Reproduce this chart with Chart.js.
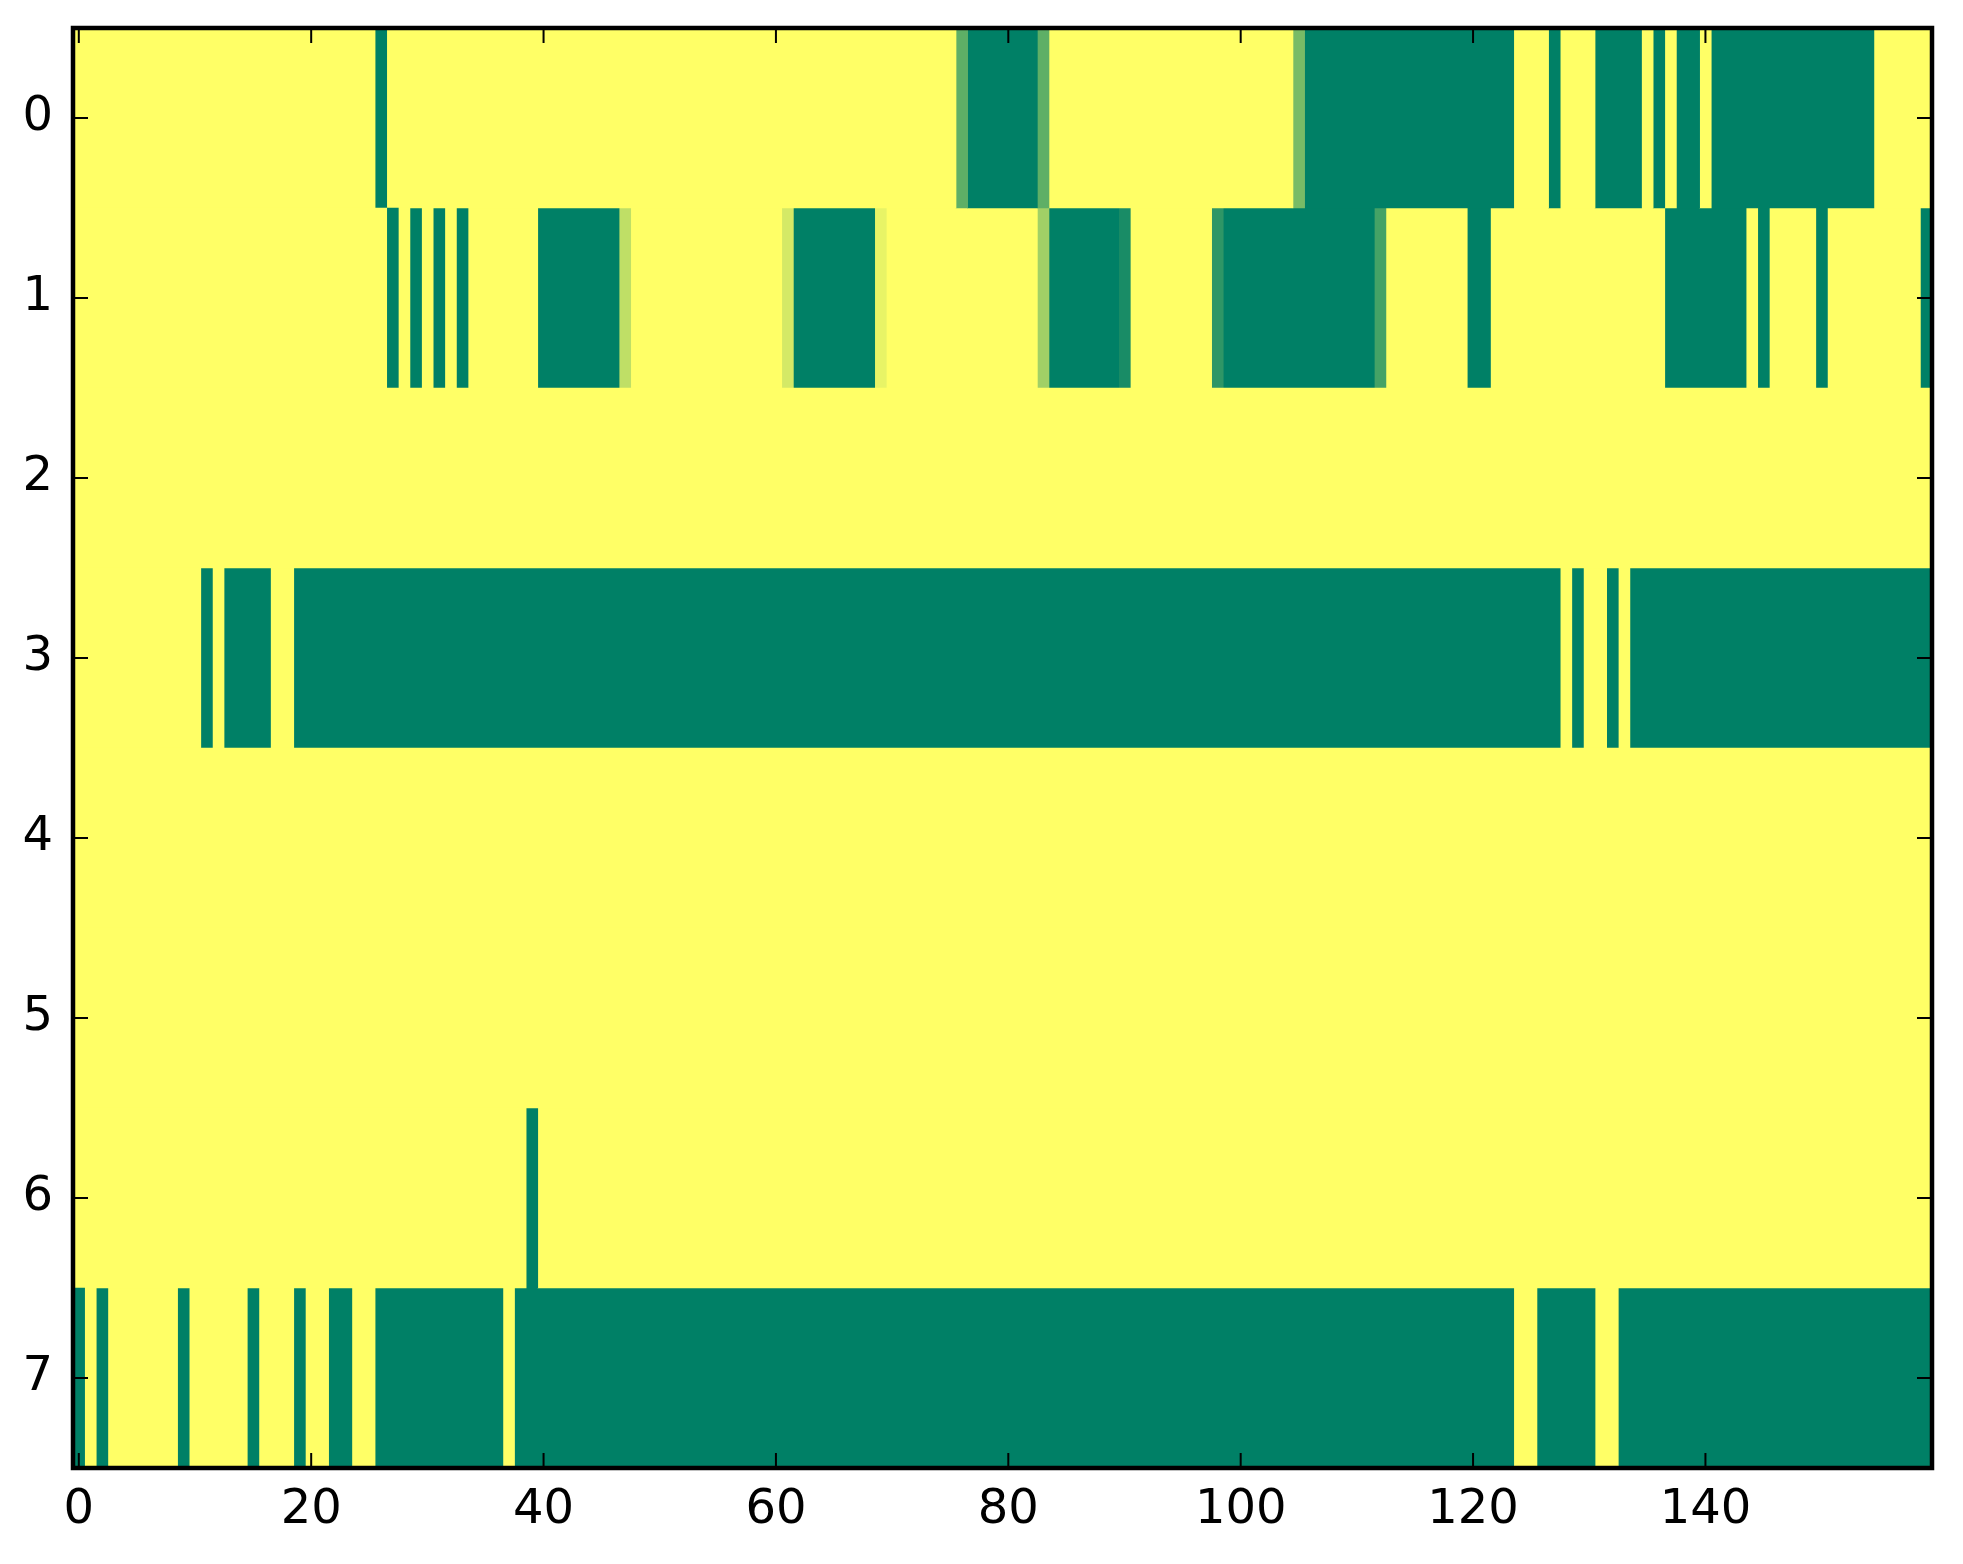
<!DOCTYPE html>
<html>
<head>
<meta charset="utf-8">
<script src="https://cdn.jsdelivr.net/npm/chart.js@4.4.0/dist/chart.umd.min.js"></script>
<style>
  body { margin: 0; background: #fff; }
  #wrap { width: 1963px; height: 1564px; position: relative; }
</style>
</head>
<body>
<div id="wrap"><canvas id="heat"></canvas></div>
<script>
// Row labels (top to bottom) and x tick labels
const rowLabels = ['0', '1', '2', '3', '4', '5', '6', '7'];
const xTickValues = [0, 20, 40, 60, 80, 100, 120, 140];

// One array per row, 160 columns each (0 = yellow, 1 = green)
const row0 = [
  0,0,0,0,0,0,0,0,0,0,0,0,0,0,0,0,0,0,0,0,
  0,0,0,0,0,0,1,0,0,0,0,0,0,0,0,0,0,0,0,0,
  0,0,0,0,0,0,0,0,0,0,0,0,0,0,0,0,0,0,0,0,
  0,0,0,0,0,0,0,0,0,0,0,0,0,0,0,0,0.63,1,1,1,
  1,1,1,0.63,0,0,0,0,0,0,0,0,0,0,0,0,0,0,0,0,
  0,0,0,0,0,0.53,1,1,1,1,1,1,1,1,1,1,1,1,1,1,
  1,1,1,1,0,0,0,1,0,0,0,1,1,1,1,0,1,0,1,1,
  0,1,1,1,1,1,1,1,1,1,1,1,1,1,1,0,0,0,0,0
];
const row1 = [
  0,0,0,0,0,0,0,0,0,0,0,0,0,0,0,0,0,0,0,0,
  0,0,0,0,0,0,0,1,0,1,0,1,0,1,0,0,0,0,0,0,
  1,1,1,1,1,1,1,0.25,0,0,0,0,0,0,0,0,0,0,0,0,
  0,0.17,1,1,1,1,1,1,1,0.09,0,0,0,0,0,0,0,0,0,0,
  0,0,0,0.37,1,1,1,1,1,1,0.9,0,0,0,0,0,0,0,0.82,1,
  1,1,1,1,1,1,1,1,1,1,1,1,0.73,0,0,0,0,0,0,0,
  1,1,0,0,0,0,0,0,0,0,0,0,0,0,0,0,0,1,1,1,
  1,1,1,1,0,1,0,0,0,0,1,0,0,0,0,0,0,0,0,1
];
const row2 = [
  0,0,0,0,0,0,0,0,0,0,0,0,0,0,0,0,0,0,0,0,
  0,0,0,0,0,0,0,0,0,0,0,0,0,0,0,0,0,0,0,0,
  0,0,0,0,0,0,0,0,0,0,0,0,0,0,0,0,0,0,0,0,
  0,0,0,0,0,0,0,0,0,0,0,0,0,0,0,0,0,0,0,0,
  0,0,0,0,0,0,0,0,0,0,0,0,0,0,0,0,0,0,0,0,
  0,0,0,0,0,0,0,0,0,0,0,0,0,0,0,0,0,0,0,0,
  0,0,0,0,0,0,0,0,0,0,0,0,0,0,0,0,0,0,0,0,
  0,0,0,0,0,0,0,0,0,0,0,0,0,0,0,0,0,0,0,0
];
const row3 = [
  0,0,0,0,0,0,0,0,0,0,0,1,0,1,1,1,1,0,0,1,
  1,1,1,1,1,1,1,1,1,1,1,1,1,1,1,1,1,1,1,1,
  1,1,1,1,1,1,1,1,1,1,1,1,1,1,1,1,1,1,1,1,
  1,1,1,1,1,1,1,1,1,1,1,1,1,1,1,1,1,1,1,1,
  1,1,1,1,1,1,1,1,1,1,1,1,1,1,1,1,1,1,1,1,
  1,1,1,1,1,1,1,1,1,1,1,1,1,1,1,1,1,1,1,1,
  1,1,1,1,1,1,1,1,0,1,0,0,1,0,1,1,1,1,1,1,
  1,1,1,1,1,1,1,1,1,1,1,1,1,1,1,1,1,1,1,1
];
const row4 = row2.slice();
const row5 = row2.slice();
const row6 = [
  0,0,0,0,0,0,0,0,0,0,0,0,0,0,0,0,0,0,0,0,
  0,0,0,0,0,0,0,0,0,0,0,0,0,0,0,0,0,0,0,1,
  0,0,0,0,0,0,0,0,0,0,0,0,0,0,0,0,0,0,0,0,
  0,0,0,0,0,0,0,0,0,0,0,0,0,0,0,0,0,0,0,0,
  0,0,0,0,0,0,0,0,0,0,0,0,0,0,0,0,0,0,0,0,
  0,0,0,0,0,0,0,0,0,0,0,0,0,0,0,0,0,0,0,0,
  0,0,0,0,0,0,0,0,0,0,0,0,0,0,0,0,0,0,0,0,
  0,0,0,0,0,0,0,0,0,0,0,0,0,0,0,0,0,0,0,0
];
const row7 = [
  1,0,1,0,0,0,0,0,0,1,0,0,0,0,0,1,0,0,0,1,
  0,0,1,1,0,0,1,1,1,1,1,1,1,1,1,1,1,0,1,1,
  1,1,1,1,1,1,1,1,1,1,1,1,1,1,1,1,1,1,1,1,
  1,1,1,1,1,1,1,1,1,1,1,1,1,1,1,1,1,1,1,1,
  1,1,1,1,1,1,1,1,1,1,1,1,1,1,1,1,1,1,1,1,
  1,1,1,1,1,1,1,1,1,1,1,1,1,1,1,1,1,1,1,1,
  1,1,1,1,0,0,1,1,1,1,1,0,0,1,1,1,1,1,1,1,
  1,1,1,1,1,1,1,1,1,1,1,1,1,1,1,1,1,1,1,1
];

const grid = [row0, row1, row2, row3, row4, row5, row6, row7];
const nCols = row0.length;

// summer_r colormap: 0 -> yellow, 1 -> green
function cellColor(v) {
  return 'rgb(' + Math.round(255 * (1 - v)) + ',' + Math.round(255 * (1 - v / 2)) + ',102)';
}

// merge equal neighbours into runs so there are no seams between cells
const runsByRow = grid.map(row => {
  const runs = [];
  let start = 0;
  for (let c = 1; c <= row.length; c++) {
    if (c === row.length || row[c] !== row[start]) {
      runs.push({ from: start - 0.5, to: c - 0.5, v: row[start] });
      start = c;
    }
  }
  return runs;
});
const maxRuns = Math.max(...runsByRow.map(r => r.length));

const datasets = [];
for (let k = 0; k < maxRuns; k++) {
  datasets.push({
    data: runsByRow.map(r => r[k] ? [r[k].from, r[k].to] : null),
    backgroundColor: runsByRow.map(r => r[k] ? cellColor(r[k].v) : 'rgba(0,0,0,0)'),
    borderWidth: 0,
    grouped: false,
    barPercentage: 1,
    categoryPercentage: 1
  });
}

// frame + inward ticks on all four sides (matplotlib classic look)
const frameTicks = {
  id: 'frameTicks',
  afterDraw(chart) {
    const { ctx, chartArea: a, scales } = chart;
    const len = 15;
    ctx.save();
    ctx.strokeStyle = '#000';
    ctx.lineWidth = 2;
    ctx.beginPath();
    xTickValues.forEach(v => {
      const px = scales.x.getPixelForValue(v);
      ctx.moveTo(px, a.bottom); ctx.lineTo(px, a.bottom - len);
      ctx.moveTo(px, a.top); ctx.lineTo(px, a.top + len);
    });
    rowLabels.forEach((_, i) => {
      const py = scales.y.getPixelForTick(i);
      ctx.moveTo(a.left, py); ctx.lineTo(a.left + len, py);
      ctx.moveTo(a.right, py); ctx.lineTo(a.right - len, py);
    });
    ctx.stroke();
    ctx.lineWidth = 4.5;
    ctx.strokeRect(a.left, a.top, a.right - a.left, a.bottom - a.top);
    ctx.restore();
  }
};

Chart.defaults.font.family = 'DejaVu Sans';
Chart.defaults.font.size = 48;
Chart.defaults.color = '#000';

new Chart(document.getElementById('heat').getContext('2d'), {
  type: 'bar',
  data: { labels: rowLabels, datasets: datasets },
  options: {
    indexAxis: 'y',
    responsive: true,
    maintainAspectRatio: false,
    animation: false,
    layout: { padding: { top: 0, right: 31, left: 0, bottom: 0 } },
    plugins: { legend: { display: false }, tooltip: { enabled: false } },
    scales: {
      x: {
        type: 'linear',
        min: -0.5,
        max: nCols - 0.5,
        grid: { display: false },
        border: { display: false },
        afterBuildTicks: s => { s.ticks = xTickValues.map(v => ({ value: v })); },
        afterFit: s => { s.height = 96; s.paddingTop = 28; },
        ticks: { padding: 6, maxRotation: 0, autoSkip: false, callback: v => v }
      },
      y: {
        type: 'category',
        grid: { display: false },
        border: { display: false },
        afterFit: s => { s.width = 73; s.paddingTop = 28; s.paddingBottom = 0; },
        ticks: { padding: 12 }
      }
    }
  },
  plugins: [frameTicks]
});
</script>
</body>
</html>
